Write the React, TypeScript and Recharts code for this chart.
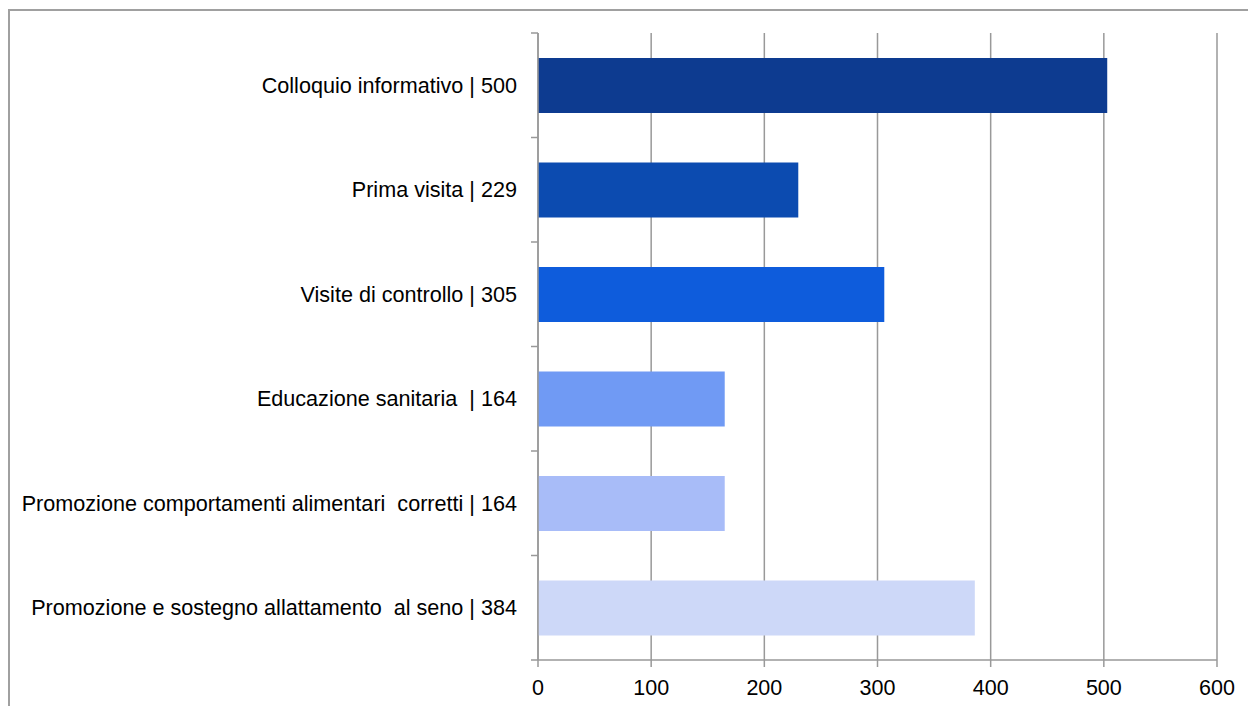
import React from "react";
import { BarChart, Bar, XAxis, YAxis, CartesianGrid, Cell } from "recharts";

const categories = [
  "Colloquio informativo | 500",
  "Prima visita | 229",
  "Visite di controllo | 305",
  "Educazione sanitaria  | 164",
  "Promozione comportamenti alimentari  corretti | 164",
  "Promozione e sostegno allattamento  al seno | 384",
];
const values = [503, 230, 306, 165, 165, 386];
const barColors = ["#0d3b90", "#0c4bb0", "#0e5cdc", "#709af4", "#a8bcf8", "#cdd8f8"];
const xTicks = [0, 100, 200, 300, 400, 500, 600];

const data = categories.map((name, i) => ({ name, value: values[i] }));

const W = 1248;
const H = 706;
const TOP = 33;
const BOTTOM = 660;
const LEFT = 538;
const RIGHT = 1217;
const band = (BOTTOM - TOP) / categories.length;
const font = "'Liberation Sans', Arial, sans-serif";

function CatTick(props: any) {
  const { y, payload, index } = props;
  const ax = LEFT;
  return (
    <g>
      <line x1={ax - 7} x2={ax} y1={y - band / 2} y2={y - band / 2} stroke="#999" strokeWidth={1.5} />
      {index === categories.length - 1 && (
        <line x1={ax - 7} x2={ax} y1={y + band / 2} y2={y + band / 2} stroke="#999" strokeWidth={1.5} />
      )}
      <text
        x={ax - 21}
        y={y}
        dy={7.5}
        textAnchor="end"
        fill="#000"
        fontSize={21.6}
        fontFamily={font}
        style={{ whiteSpace: "pre" }}
      >
        {payload.value}
      </text>
    </g>
  );
}

export default function App() {
  return (
    <div style={{ position: "fixed", left: 0, top: 0, width: W, height: H, background: "#fff", overflow: "hidden" }}>
      <div
        style={{
          position: "absolute",
          left: 8,
          top: 9,
          width: 1300,
          height: 800,
          border: "2px solid #a0a0a0",
          boxSizing: "border-box",
        }}
      />
      <div style={{ position: "absolute", left: 0, top: 0 }}>
        <BarChart
          width={W}
          height={H}
          data={data}
          layout="vertical"
          margin={{ top: TOP, right: W - RIGHT, bottom: 10, left: 0 }}
          barSize={55}
        >
          <CartesianGrid horizontal={false} stroke="#999" strokeWidth={1.5} />
          <XAxis
            type="number"
            domain={[0, 600]}
            ticks={xTicks}
            height={H - BOTTOM - 10}
            axisLine={{ stroke: "#999", strokeWidth: 1.5 }}
            tickLine={{ stroke: "#999", strokeWidth: 1.5 }}
            tickSize={7}
            tick={{ fill: "#000", fontSize: 21.5, fontFamily: font }}
            tickMargin={13}
            interval={0}
          />
          <YAxis
            type="category"
            dataKey="name"
            width={LEFT}
            axisLine={{ stroke: "#999", strokeWidth: 1.5 }}
            tickLine={false}
            tick={<CatTick />}
            interval={0}
          />
          <Bar dataKey="value" isAnimationActive={false}>
            {data.map((d, i) => (
              <Cell key={d.name} fill={barColors[i]} />
            ))}
          </Bar>
        </BarChart>
      </div>
    </div>
  );
}
